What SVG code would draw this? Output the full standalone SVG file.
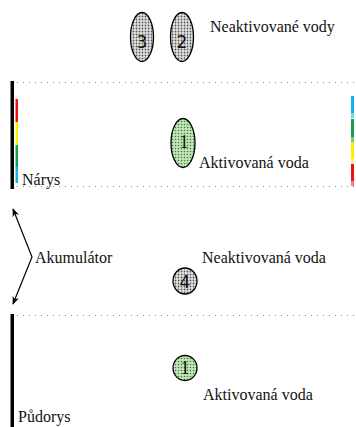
<svg xmlns="http://www.w3.org/2000/svg" width="356" height="427" viewBox="0 0 356 427">
  <defs>
    <pattern id="dotsGray" width="3" height="3" patternUnits="userSpaceOnUse">
      <rect width="3" height="3" fill="#e4e4e4"/>
      <circle cx="1.5" cy="1.5" r="0.9" fill="#555"/>
    </pattern>
    <pattern id="dotsGreen" width="3" height="3" patternUnits="userSpaceOnUse">
      <rect width="3" height="3" fill="#bfe6b4"/>
      <circle cx="1.5" cy="1.5" r="0.8" fill="#4a7a48"/>
    </pattern>
    <marker id="head" viewBox="0 0 10 10" refX="9" refY="5" markerWidth="7" markerHeight="7" orient="auto-start-reverse">
      <path d="M0,1 L10,5 L0,9 L3,5 Z" fill="#000"/>
    </marker>
  </defs>
  <style>
    .lbl { font-family: 'Liberation Serif', 'Times New Roman', serif; font-size: 16px; fill: #111; }
    .num { font-family: 'DejaVu Sans', 'Liberation Sans', sans-serif; font-size: 17px; fill: #111; text-anchor: middle; }
    .numSerif { font-family: 'Liberation Serif', 'Times New Roman', serif; font-size: 18px; fill: #111; text-anchor: middle; }
    .dot { stroke: #888; stroke-width: 1; stroke-dasharray: 1 5; fill: none; }
    .bar { fill: #000; }
    .ell { stroke: #000; stroke-width: 1.3; }
  </style>

  <!-- section boundaries -->
  <g id="dividers">
    <line class="dot" x1="17" y1="82.5" x2="356" y2="82.5"/>
    <line class="dot" x1="17" y1="186.5" x2="356" y2="186.5"/>
    <line class="dot" x1="17" y1="315.5" x2="356" y2="315.5"/>
    <rect class="bar" x="10.5" y="81" width="3.5" height="108"/>
    <rect class="bar" x="10.5" y="314" width="3.5" height="113"/>
  </g>

  <!-- colour scale, left -->
  <g id="scale-left">
    <rect x="15.5" y="99" width="2.5" height="23" fill="#ee1111"/>
    <rect x="15.5" y="122" width="2.5" height="23" fill="#ffee00"/>
    <rect x="15.5" y="145" width="2.5" height="22" fill="#11a050"/>
    <rect x="15.5" y="167" width="2.5" height="16" fill="#1ab0e8"/>
  </g>

  <!-- colour scale, right -->
  <g id="scale-right">
    <rect x="351" y="96" width="3" height="17" fill="#11b0ee"/>
    <rect x="351" y="113" width="3" height="5" fill="#80d0f0"/>
    <rect x="351" y="119" width="3" height="18" fill="#11a050"/>
    <rect x="351" y="137" width="3" height="5" fill="#70c890"/>
    <rect x="351" y="142" width="3" height="17" fill="#ffee00"/>
    <rect x="351" y="159" width="3" height="5" fill="#fff580"/>
    <rect x="351" y="164" width="3" height="17" fill="#ee1111"/>
    <rect x="351" y="181" width="3" height="5" fill="#f08080"/>
  </g>

  <!-- inactive water bodies -->
  <g id="node-3">
    <ellipse class="ell" cx="142" cy="37" rx="11.5" ry="24.5" fill="url(#dotsGray)"/>
    <text class="num" x="142" y="48">3</text>
  </g>
  <g id="node-2">
    <ellipse class="ell" cx="182" cy="37" rx="11.5" ry="24.5" fill="url(#dotsGray)"/>
    <text class="num" x="182" y="48">2</text>
  </g>
  <text class="lbl" x="210" y="32">Neaktivované vody</text>

  <!-- elevation -->
  <g id="node-1-elev">
    <ellipse class="ell" cx="183" cy="143" rx="12" ry="24.5" fill="url(#dotsGreen)"/>
    <text class="numSerif" x="184" y="148">1</text>
  </g>
  <text class="lbl" x="199" y="168">Aktivovaná voda</text>
  <text class="lbl" x="22" y="185">Nárys</text>

  <!-- accumulator span -->
  <g id="connectors">
    <polyline points="13,209 32,257 13,304" fill="none" stroke="#000" stroke-width="1.2" marker-start="url(#head)" marker-end="url(#head)"/>
  </g>
  <text class="lbl" x="35" y="263">Akumulátor</text>

  <g id="node-4">
    <ellipse class="ell" cx="185" cy="281" rx="12" ry="13" fill="url(#dotsGray)"/>
    <text class="num" x="185" y="287.5">4</text>
  </g>
  <text class="lbl" x="202" y="263">Neaktivovaná voda</text>

  <!-- plan -->
  <g id="node-1-plan">
    <ellipse class="ell" cx="185" cy="368" rx="12" ry="12.5" fill="url(#dotsGreen)"/>
    <text class="numSerif" x="185" y="374">1</text>
  </g>
  <text class="lbl" x="203" y="400">Aktivovaná voda</text>
  <text class="lbl" x="18" y="422">Půdorys</text>
</svg>
